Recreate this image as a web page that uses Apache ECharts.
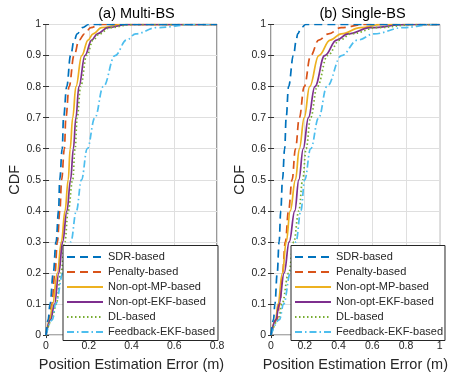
<!DOCTYPE html>
<html>
<head>
<meta charset="utf-8">
<script src="https://cdn.jsdelivr.net/npm/echarts@6/dist/echarts.min.js"></script>
<style>
  html, body { margin: 0; padding: 0; background: #fff; }
  #chart { width: 451px; height: 377px; }
</style>
</head>
<body>
<div id="chart"></div>
<script>
// CDF levels shared by every curve (last entry: curve runs flat along the top to the axis end)
const cdfLevels = [0, 0.05, 0.1, 0.2, 0.3, 0.4, 0.5, 0.6, 0.7, 0.8, 0.9, 0.95, 0.97, 0.99, 1, 1];

const seriesNames = ['SDR-based', 'Penalty-based', 'Non-opt-MP-based', 'Non-opt-EKF-based', 'DL-based', 'Feedback-EKF-based'];

// (a) Multi-BS: position error (m) at each CDF level
const multiSDR      = [0, 0.010, 0.019, 0.034, 0.047, 0.059, 0.064, 0.076, 0.082, 0.097, 0.115, 0.132, 0.146, 0.170, 0.200, 0.8];
const multiPenalty  = [0, 0.015, 0.027, 0.042, 0.053, 0.065, 0.073, 0.086, 0.093, 0.108, 0.131, 0.155, 0.180, 0.210, 0.250, 0.8];
const multiMP       = [0, 0.018, 0.031, 0.053, 0.072, 0.089, 0.104, 0.113, 0.125, 0.140, 0.167, 0.197, 0.220, 0.260, 0.350, 0.8];
const multiEKF      = [0, 0.022, 0.040, 0.060, 0.078, 0.098, 0.115, 0.128, 0.140, 0.154, 0.182, 0.214, 0.240, 0.290, 0.380, 0.8];
const multiDL       = [0, 0.028, 0.048, 0.070, 0.088, 0.104, 0.125, 0.136, 0.146, 0.162, 0.190, 0.221, 0.250, 0.300, 0.400, 0.8];
const multiFeedback = [0, 0.030, 0.045, 0.080, 0.116, 0.142, 0.166, 0.193, 0.229, 0.268, 0.323, 0.377, 0.420, 0.518, 0.690, 0.8];

// (b) Single-BS
const singleSDR      = [0, 0.015, 0.023, 0.037, 0.048, 0.058, 0.068, 0.081, 0.090, 0.104, 0.133, 0.150, 0.158, 0.180, 0.206, 1];
const singlePenalty  = [0, 0.035, 0.052, 0.068, 0.085, 0.104, 0.125, 0.145, 0.168, 0.197, 0.235, 0.283, 0.341, 0.416, 0.550, 1];
const singleMP       = [0, 0.028, 0.041, 0.068, 0.090, 0.114, 0.145, 0.168, 0.197, 0.229, 0.283, 0.351, 0.416, 0.532, 0.650, 1];
const singleEKF      = [0, 0.030, 0.048, 0.078, 0.108, 0.141, 0.165, 0.191, 0.222, 0.260, 0.318, 0.389, 0.457, 0.590, 0.800, 1];
const singleDL       = [0, 0.045, 0.065, 0.105, 0.135, 0.165, 0.188, 0.208, 0.235, 0.274, 0.335, 0.408, 0.475, 0.630, 0.850, 1];
const singleFeedback = [0, 0.050, 0.075, 0.115, 0.148, 0.177, 0.200, 0.235, 0.283, 0.331, 0.418, 0.514, 0.611, 0.784, 0.960, 1];

const multiData  = [multiSDR, multiPenalty, multiMP, multiEKF, multiDL, multiFeedback];
const singleData = [singleSDR, singlePenalty, singleMP, singleEKF, singleDL, singleFeedback];

const colors = ['#0072BD', '#D95319', '#EDB120', '#7E2F8E', '#77AC30', '#4DBEEE'];
const dashes = [[8, 5], [8, 5], 'solid', 'solid', [1.5, 2.5], [7, 3, 1.5, 3]];

const FONT = 'Liberation Sans, Arial, Helvetica, sans-serif';
const TXT = '#262626';

const chart = echarts.init(document.getElementById('chart'), null, { renderer: 'canvas' });

function xAxisFor(gridIndex, max, pos) {
  const main = pos === 'bottom';
  return {
    gridIndex, type: 'value', position: pos, min: 0, max, interval: 0.2,
    name: main ? 'Position Estimation Error (m)' : '',
    nameLocation: 'middle', nameGap: 21,
    nameTextStyle: { fontFamily: FONT, fontSize: 14.5, color: TXT },
    axisLine: { show: false },
    axisTick: { show: true, inside: true, length: 3, lineStyle: { color: '#333' } },
    axisLabel: { show: main, fontFamily: FONT, fontSize: 10.5, color: TXT, margin: 6 },
    splitLine: { show: main, lineStyle: { color: '#dfdfdf', width: 1 } }
  };
}

function yAxisFor(gridIndex, pos) {
  const main = pos === 'left';
  return {
    gridIndex, type: 'value', position: pos, min: 0, max: 1, interval: 0.1,
    name: main ? 'CDF' : '',
    nameLocation: 'middle', nameGap: 22,
    nameTextStyle: { fontFamily: FONT, fontSize: 14.5, color: TXT },
    axisLine: { show: false },
    axisTick: { show: true, inside: true, length: 3, lineStyle: { color: '#333' } },
    axisLabel: { show: main, fontFamily: FONT, fontSize: 10.5, color: TXT, margin: 5 },
    splitLine: { show: main, lineStyle: { color: '#dfdfdf', width: 1 } }
  };
}

function makeSeries(dataSets, axisIndex) {
  return dataSets.map((xs, i) => ({
    name: seriesNames[i], type: 'line',
    xAxisIndex: axisIndex, yAxisIndex: axisIndex,
    data: xs.map((x, k) => [x, cdfLevels[k]]),
    symbol: 'none', smooth: 0.4, smoothMonotone: 'x',
    lineStyle: { color: colors[i], width: 1.7, type: dashes[i] },
    itemStyle: { color: colors[i] },
    z: 2 + (i === 0 ? 0.5 : 0)
  }));
}

function legendAt(left, padRight) {
  return {
    orient: 'vertical', left, top: 245.5,
    data: seriesNames,
    itemWidth: 36, itemHeight: 10, itemGap: 4,
    padding: [6, padRight, 3, 3],
    backgroundColor: '#fff', borderColor: '#262626', borderWidth: 1, borderRadius: 0,
    itemStyle: { opacity: 0 },
    textStyle: { fontFamily: FONT, fontSize: 11, color: TXT, lineHeight: 11 },
    selectedMode: false, z: 10
  };
}

chart.setOption({
  animation: false,
  color: colors,
  title: [
    { text: '(a) Multi-BS', left: 131.5, top: 1, textAlign: 'center',
      textStyle: { fontFamily: FONT, fontSize: 14.5, fontWeight: 'normal', color: '#000' } },
    { text: '(b) Single-BS', left: 357.5, top: 1, textAlign: 'center',
      textStyle: { fontFamily: FONT, fontSize: 14.5, fontWeight: 'normal', color: '#000' } }
  ],
  grid: [
    { left: 46, top: 24.5, width: 171, height: 315.5, show: true, borderColor: '#333', borderWidth: 1, backgroundColor: 'transparent' },
    { left: 271, top: 24.5, width: 173, height: 315.5, show: true, borderColor: '#333', borderWidth: 1, backgroundColor: 'transparent' }
  ],
  xAxis: [
    xAxisFor(0, 0.8, 'bottom'),
    xAxisFor(1, 1, 'bottom'),
    xAxisFor(0, 0.8, 'top'),
    xAxisFor(1, 1, 'top')
  ],
  yAxis: [
    yAxisFor(0, 'left'),
    yAxisFor(1, 'left'),
    yAxisFor(0, 'right'),
    yAxisFor(1, 'right')
  ],
  legend: [legendAt(63, 3), legendAt(291, 2)],
  series: [...makeSeries(multiData, 0), ...makeSeries(singleData, 1)]
});
</script>
</body>
</html>
